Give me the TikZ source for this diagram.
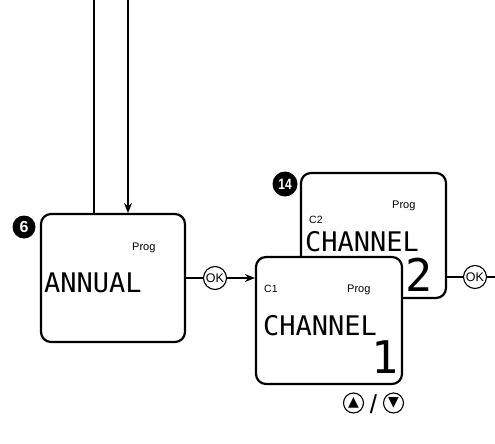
\documentclass[tikz,border=0pt]{standalone}
\usepackage{fontspec}
\setmainfont{Liberation Sans}
\newfontfamily\lcdfont{DejaVu Sans Mono}
\newfontfamily\symfont{DejaVu Sans}
\usetikzlibrary{arrows.meta, positioning}
\tikzset{
  screen/.style={rectangle, rounded corners=10pt, draw=black, line width=2.2pt, fill=white, inner sep=0pt},
  badge/.style={circle, fill=black, text=white, inner sep=0pt, minimum size=23pt, font=\bfseries\fontsize{16}{16}\selectfont},
  button/.style={circle, draw=black, line width=1.1pt, fill=white, inner sep=0pt, minimum size=23pt, font=\fontsize{12.5}{12.5}\selectfont},
  label/.style={inner sep=0pt, anchor=base west, font=\fontsize{11}{11}\selectfont},
  tag/.style={inner sep=0pt, anchor=base west, font=\fontsize{10.5}{10.5}\selectfont},
  lcd/.style={inner sep=0pt, anchor=west, font=\lcdfont\fontsize{27}{27}\selectfont},
  digit/.style={inner sep=0pt, font=\lcdfont\fontsize{45}{45}\selectfont},
  link/.style={line width=1.1pt},
  arrow/.style={line width=1.1pt, -{Stealth[length=10pt, width=8pt]}}
}

\begin{document}
\begin{tikzpicture}[x=1pt, y=-1pt]
  \useasboundingbox (0,0) rectangle (495,444);

  % step 6
  \node (annual) [screen, minimum width=144pt, minimum height=128pt] at (113,278) {};
  \node (prog6) [label] at (132,250) {Prog};
  \node (annualtxt) [lcd] at (44,282.5) {ANNUAL};
  \node (badge6) [badge] at (24,227) {6};

  % incoming lines
  \coordinate (inL) at (94,0);
  \coordinate (inR) at (128,0);
  \draw [link] (inL) -- (inL |- annual.north);
  \draw [arrow] (inR) -- (inR |- annual.north);

  % step 14, channel 2 (behind)
  \node (chan2) [screen, minimum width=145pt, minimum height=125pt] at (373.5,235.5) {};
  \node (prog2) [label] at (392,208) {Prog};
  \node (c2) [tag] at (309,223) {C2};
  \node (chan2txt) [lcd] at (305,242) {CHANNEL};
  \node (digit2) [digit] at (419.5,274.5) {2};
  \node (badge14) [badge, minimum size=25pt, font=\bfseries\fontsize{15}{15}\selectfont] at (285,184) {\scalebox{0.8}[1]{14}};

  % channel 1 (front)
  \node (chan1) [screen, minimum width=146pt, minimum height=127pt] at (329,320.5) {};
  \node (c1) [tag] at (264,292) {C1};
  \node (prog1) [label] at (347,292) {Prog};
  \node (chan1txt) [lcd] at (263,326) {CHANNEL};
  \node (digit1) [digit] at (385,357) {1};

  % OK buttons
  \node (ok1) [button] at (215,278) {OK};
  \node (ok2) [button] at (475,277) {OK};
  \coordinate (tail) at (495,277);
  \draw [link] (annual) -- (ok1);
  \draw [arrow] (ok1) -- (ok1 -| chan1.west);
  \draw [link] (ok2 -| chan2.east) -- (ok2);
  \draw [link] (ok2) -- (tail);

  % up / down
  \node (up) [button, minimum size=20pt, font=\symfont\fontsize{14}{14}\selectfont] at (353.5,403) {▲};
  \node (down) [button, minimum size=20pt, font=\symfont\fontsize{14}{14}\selectfont] at (393.5,403) {▼};
  \node (slash) [inner sep=0pt, font=\fontsize{26}{26}\selectfont] at (373.5,404) {/};

\end{tikzpicture}
\end{document}
